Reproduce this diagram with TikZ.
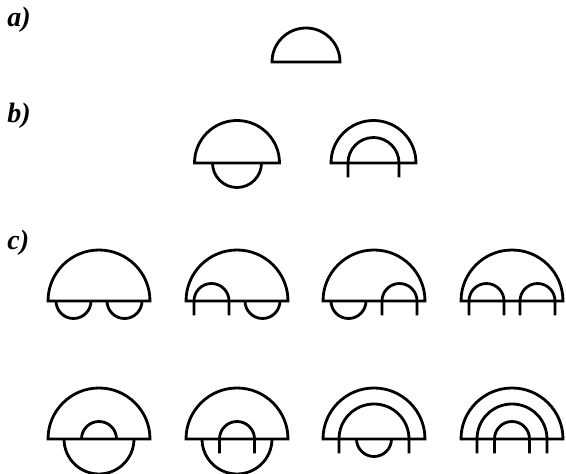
\documentclass[tikz,border=0pt]{standalone}
\usepackage{fontspec}
\setmainfont{Liberation Serif}
\usepackage{tikz}

\begin{document}
\begin{tikzpicture}[x=1pt, y=1pt, line width=2.8pt]
    \tikzstyle{label} = [anchor=base west, inner sep=0pt, font=\fontsize{28}{32}\selectfont\bfseries\itshape]

    \useasboundingbox (0,0) rectangle (566,474);

    \node [label] (la) at (6,447) {a)};
    \node [label] (lb) at (6,351) {b)};
    \node [label] (lc) at (6,224) {c)};

    % domes
    \draw (272,412) arc (180:0:34) -- cycle;
    \foreach \x in {237,373.5} {
        \draw (\x-42.5,311) arc (180:0:42.5) -- cycle;
    }
    \foreach \x in {99,237,374,512} {
        \draw (\x-51,173) arc (180:0:51) -- cycle;
        \draw (\x-51,35) arc (180:0:51) -- cycle;
    }

    % bowls under the base line
    \foreach \x/\y/\r in {237/311/24.5, 73.5/173/17.5, 124.5/173/17.5, 262.5/173/17.5, 348.5/173/17.5,
                          99/35/35, 237/35/35, 374/35/17.5} {
        \draw (\x-\r,\y) arc (180:360:\r);
    }

    % arches with legs
    \foreach \x/\y/\r in {373.5/311/25.5, 211.5/173/17.5, 399.5/173/17.5, 486.5/173/17.5, 537.5/173/17.5,
                          237/35/17.5, 374/35/35, 512/35/35, 512/35/17.5} {
        \draw (\x-\r,\y-14.5) -- (\x-\r,\y) arc (180:0:\r) -- (\x+\r,\y-14.5);
    }

    % cap without legs
    \draw (81.5,35) arc (180:0:17.5);
\end{tikzpicture}
\end{document}
